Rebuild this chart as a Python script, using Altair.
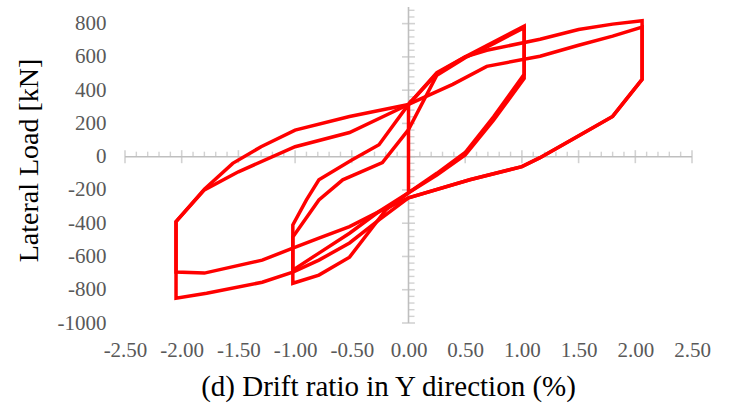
import altair as alt
import pandas as pd

# Hysteresis loops: drift ratio (%) and lateral load (kN), one polyline per cycle
c1_drift = [0, 0.25, 0.5, 0.75, 1.02, 1.02, 0.75, 0.5, 0.25, 0, -0.26, -0.52, -0.79, -1.02, -1.02, -0.9, -0.79, -0.5, -0.26, 0, 0]
c1_load = [314, 505, 600, 690, 785, 495, 240, 25, -100, -217, -330, -460, -580, -682, -411, -260, -139, -20, 72, 314, -217]

c2_drift = [0, 0.25, 0.5, 0.75, 1.02, 1.02, 0.75, 0.5, 0.25, 0, -0.2, -0.52, -0.79, -1.02, -1.02, -0.79, -0.58, -0.23, 0]
c2_load = [163, 490, 595, 680, 775, 470, 220, 10, -110, -217, -320, -604, -712, -761, -483, -260, -139, -36, 163]

c3_drift = [0, 0.25, 0.5, 0.69, 1.16, 1.5, 1.8, 2.06, 2.06, 1.8, 1.49, 1.16, 1.0, 0.54, 0, -0.26, -0.52, -0.79, -1.02, -1.29, -1.8, -2.05, -2.05, -1.8, -1.5, -1.0, -0.52, 0]
c3_load = [314, 500, 600, 640, 706, 765, 797, 817, 465, 242, 121, -6, -60, -139, -248, -330, -420, -490, -550, -622, -700, -694, -390, -200, -91, 60, 145, 314]

c4_drift = [0, 0.39, 0.69, 1.16, 1.5, 1.8, 2.06, 2.06, 1.8, 1.49, 1.16, 1.0, 0.54, 0, -0.26, -0.52, -0.79, -1.02, -1.29, -1.78, -2.05, -2.05, -1.8, -1.55, -1.3, -1.0, -0.52, 0]
c4_load = [314, 435, 543, 604, 670, 725, 779, 465, 242, 121, -6, -60, -139, -248, -380, -519, -622, -694, -755, -821, -851, -390, -195, -40, 60, 160, 242, 314]

cycles = {
    "1% (a)": (c1_drift, c1_load),
    "1% (b)": (c2_drift, c2_load),
    "2% (a)": (c3_drift, c3_load),
    "2% (b)": (c4_drift, c4_load),
}

# Axis ticks
x_major = [-2.5, -2.0, -1.5, -1.0, -0.5, 0.0, 0.5, 1.0, 1.5, 2.0, 2.5]
y_major = [-1000, -800, -600, -400, -200, 0, 200, 400, 600, 800]
x_range = [-2.5, 2.5]
y_range = [-1000, 900]

x_minor = [round(-2.5 + 0.1 * i, 2) for i in range(51) if i % 5]
y_minor = [-1000 + 40 * i for i in range(48) if i % 5]

rows = []
for name, (d, f) in cycles.items():
    for i, (dx, fy) in enumerate(zip(d, f)):
        rows.append({"cycle": name, "step": i, "drift": dx, "load": fy})
loops = pd.DataFrame(rows)

xs = alt.Scale(domain=x_range, nice=False, zero=False)
ys = alt.Scale(domain=y_range, nice=False, zero=False)

AXIS_GRAY = "#BFBFBF"
SERIF = "Liberation Serif"

# Labels sit at the frame edges; the axis lines themselves are drawn through the origin below
x_axis = alt.Axis(
    values=x_major, domain=False, ticks=False, grid=False,
    labelOverlap=False, labelFlush=False,
    labelExpr="(datum.value < 0 ? '-' : '') + format(abs(datum.value), '.2f')",
    labelFont=SERIF, labelFontSize=21, labelColor="#595959", labelPadding=16,
    title="(d) Drift ratio in Y direction (%)", titleFont=SERIF, titleFontSize=29,
    titleFontWeight="normal", titleColor="black", titleX=263, titleY=63,
    titleAlign="center", titleBaseline="middle",
)
y_axis = alt.Axis(
    values=y_major, domain=False, ticks=False, grid=False,
    labelOverlap=False, labelFlush=False,
    labelExpr="(datum.value < 0 ? '-' : '') + format(abs(datum.value), 'd')",
    labelFont=SERIF, labelFontSize=21, labelColor="#595959", labelPadding=19,
    title="Lateral Load [kN]", titleFont=SERIF, titleFontSize=28,
    titleFontWeight="normal", titleColor="black", titleAngle=270,
    titleX=-96, titleY=153, titleBaseline="middle", titleAlign="center",
)

curves = alt.Chart(loops).mark_line(
    color="#FF0000", strokeWidth=3.5, strokeJoin="miter"
).encode(
    x=alt.X("drift:Q", scale=xs, axis=x_axis),
    y=alt.Y("load:Q", scale=ys, axis=y_axis),
    detail="cycle:N",
    order="step:Q",
)

# Axis lines crossing at the origin
x_line = alt.Chart(pd.DataFrame({"drift": [x_range[0]], "b": [x_range[1]], "load": [0]})).mark_rule(
    color=AXIS_GRAY, strokeWidth=1.6
).encode(
    x=alt.X("drift:Q", scale=xs, axis=x_axis), x2="b:Q", y=alt.Y("load:Q", scale=ys, axis=y_axis)
)
y_line = alt.Chart(pd.DataFrame({"load": [y_range[0]], "b": [y_range[1]], "drift": [0]})).mark_rule(
    color=AXIS_GRAY, strokeWidth=1.6
).encode(
    y=alt.Y("load:Q", scale=ys, axis=y_axis), y2="b:Q", x=alt.X("drift:Q", scale=xs, axis=x_axis)
)

x_major_ticks = alt.Chart(pd.DataFrame({"drift": x_major, "load": 0})).mark_tick(
    orient="vertical", color=AXIS_GRAY, size=13, thickness=1.6
).encode(x=alt.X("drift:Q", scale=xs, axis=x_axis), y=alt.Y("load:Q", scale=ys, axis=y_axis))
x_minor_ticks = alt.Chart(pd.DataFrame({"drift": x_minor, "load": 0})).mark_tick(
    orient="vertical", color=AXIS_GRAY, size=5, thickness=1.4, yOffset=-2.5
).encode(x=alt.X("drift:Q", scale=xs, axis=x_axis), y=alt.Y("load:Q", scale=ys, axis=y_axis))

y_major_ticks = alt.Chart(pd.DataFrame({"load": y_major, "drift": 0})).mark_tick(
    orient="horizontal", color=AXIS_GRAY, size=13, thickness=1.6
).encode(y=alt.Y("load:Q", scale=ys, axis=y_axis), x=alt.X("drift:Q", scale=xs, axis=x_axis))
y_minor_ticks = alt.Chart(pd.DataFrame({"load": y_minor, "drift": 0})).mark_tick(
    orient="horizontal", color=AXIS_GRAY, size=6, thickness=1.4, xOffset=3
).encode(y=alt.Y("load:Q", scale=ys, axis=y_axis), x=alt.X("drift:Q", scale=xs, axis=x_axis))

chart = alt.layer(
    x_line, y_line, x_minor_ticks, x_major_ticks, y_minor_ticks, y_major_ticks, curves
).properties(
    width=567, height=316,
    autosize=alt.AutoSizeParams(type="none"),
    padding={"left": 125, "top": 7, "right": 38, "bottom": 87},
    background="white",
).configure_view(stroke=None)

chart.save("out.html", embed_options={"renderer": "svg", "actions": False})
